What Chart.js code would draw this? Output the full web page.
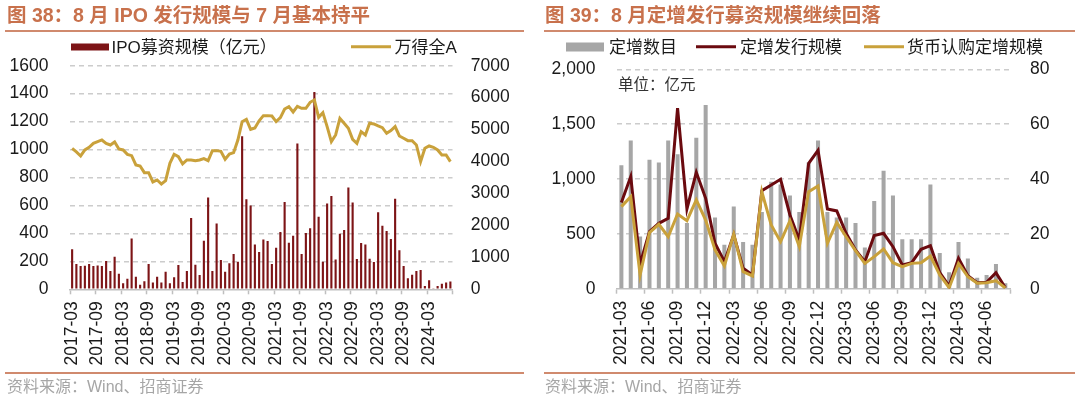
<!DOCTYPE html>
<html><head><meta charset="utf-8">
<script src="https://cdn.jsdelivr.net/npm/chart.js@4.4.1/dist/chart.umd.min.js"></script>
<style>
html,body{margin:0;padding:0;background:#fff;}
body{width:1080px;height:398px;position:relative;overflow:hidden;font-family:"Liberation Sans","Noto Sans CJK SC",sans-serif;}
canvas{position:absolute;top:0;}
.t{position:absolute;white-space:nowrap;line-height:1;transform:translateY(-50%);}
.title{font-size:19.5px;font-weight:bold;color:#c8714c;}
.hr{position:absolute;height:2px;background:#d08a6e;}
.leg{font-size:17px;color:#1a1a1a;}
.src{font-size:16px;color:#a6a6a6;}
.sw{position:absolute;transform:translateY(-50%);}
</style></head><body>
<canvas id="c1" width="540" height="398" style="left:0"></canvas>
<canvas id="c2" width="540" height="398" style="left:540px"></canvas>

<div class="t title" style="left:7px;top:15.6px">图 38：8 月 IPO 发行规模与 7 月基本持平</div>
<div class="hr" style="left:5px;top:29.5px;width:519px"></div>
<div class="sw" style="left:71px;top:46.7px;width:38px;height:7px;background:#7d1416"></div>
<div class="t leg" style="left:111.5px;top:46.7px">IPO募资规模（亿元）</div>
<div class="sw" style="left:351px;top:46.7px;width:40px;height:3.5px;background:#c9a13b"></div>
<div class="t leg" style="left:394.6px;top:46.7px">万得全A</div>
<div class="hr" style="left:5px;top:372px;width:519px"></div>
<div class="t src" style="left:7px;top:387px">资料来源：Wind、招商证券</div>

<div class="t title" style="left:545px;top:15.6px">图 39：8 月定增发行募资规模继续回落</div>
<div class="hr" style="left:543.5px;top:29.5px;width:531.5px"></div>
<div class="sw" style="left:566px;top:46.7px;width:38px;height:9px;background:#a6a6a6"></div>
<div class="t leg" style="left:609px;top:46.7px">定增数目</div>
<div class="sw" style="left:696px;top:46.7px;width:40px;height:3.5px;background:#6b0a0f"></div>
<div class="t leg" style="left:740px;top:46.7px">定增发行规模</div>
<div class="sw" style="left:863.6px;top:46.7px;width:40px;height:3.5px;background:#c9a13b"></div>
<div class="t leg" style="left:907px;top:46.7px">货币认购定增规模</div>
<div class="t" style="left:618px;top:84.8px;font-size:15.5px;color:#333">单位：亿元</div>
<div class="hr" style="left:543.5px;top:372px;width:531.5px"></div>
<div class="t src" style="left:545px;top:387px">资料来源：Wind、招商证券</div>

<script>
// ---------- Chart 38 data ----------
const ipoMonths = [
"2017-03","2017-04","2017-05","2017-06","2017-07","2017-08","2017-09","2017-10","2017-11","2017-12",
"2018-01","2018-02","2018-03","2018-04","2018-05","2018-06","2018-07","2018-08","2018-09","2018-10","2018-11","2018-12",
"2019-01","2019-02","2019-03","2019-04","2019-05","2019-06","2019-07","2019-08","2019-09","2019-10","2019-11","2019-12",
"2020-01","2020-02","2020-03","2020-04","2020-05","2020-06","2020-07","2020-08","2020-09","2020-10","2020-11","2020-12",
"2021-01","2021-02","2021-03","2021-04","2021-05","2021-06","2021-07","2021-08","2021-09","2021-10","2021-11","2021-12",
"2022-01","2022-02","2022-03","2022-04","2022-05","2022-06","2022-07","2022-08","2022-09","2022-10","2022-11","2022-12",
"2023-01","2023-02","2023-03","2023-04","2023-05","2023-06","2023-07","2023-08","2023-09","2023-10","2023-11","2023-12",
"2024-01","2024-02","2024-03","2024-04","2024-05","2024-06","2024-07","2024-08"];
const ipoAmount = [
286,181,167,169,181,167,171,167,202,131,233,112,43,76,364,90,33,57,181,48,90,48,126,43,86,174,52,131,510,176,
102,348,657,131,471,210,126,186,252,198,1095,645,600,321,267,357,345,181,298,410,624,333,383,1043,252,402,436,1412,519,198,
614,667,214,398,424,729,621,217,331,321,219,195,552,455,417,360,648,279,167,79,105,131,138,24,64,7,24,40,48,55];
const windA = [
4414,4299,4174,4362,4445,4570,4623,4675,4570,4518,4612,4393,4362,4226,4184,3892,3861,3652,3652,3360,3423,3297,3402,3944,4226,4153,3924,4049,4049,4028,
4049,4091,4028,4341,4341,4320,4070,4237,4278,4675,5249,5322,5009,5050,5275,5437,5437,5426,5249,5374,5645,5718,5551,5729,5666,5666,5854,5927,5384,5531,
5092,4623,4831,5353,5197,5040,4696,4570,4936,4831,5197,5176,5113,5061,4884,4967,5092,4800,4727,4654,4654,4518,3997,4414,4487,4445,4362,4205,4205,3997];

// ---------- Chart 39 data ----------
const pvtMonths = [
"2021-03","2021-04","2021-05","2021-06","2021-07","2021-08","2021-09","2021-10","2021-11","2021-12",
"2022-01","2022-02","2022-03","2022-04","2022-05","2022-06","2022-07","2022-08","2022-09","2022-10","2022-11","2022-12",
"2023-01","2023-02","2023-03","2023-04","2023-05","2023-06","2023-07","2023-08","2023-09","2023-10","2023-11","2023-12",
"2024-01","2024-02","2024-03","2024-04","2024-05","2024-06","2024-07","2024-08"];
const pvtCount = [45,54,19,47,46,54,49,24,55,67,26,16,30,17,16,28,39,38,34,28,46,54,28,26,26,24,15,32,43,34,18,18,18,38,13,6,17,11,4,5,9,2];
const pvtAmount = [785,1022,225,520,596,642,1645,727,1061,824,414,246,492,186,125,893,945,997,672,444,1143,1262,727,709,505,353,246,484,505,383,216,237,359,392,146,24,277,119,55,58,146,9];
const pvtCash = [748,839,125,511,587,474,681,620,809,626,353,207,497,155,116,884,581,428,620,383,885,937,414,605,474,347,231,292,362,237,201,231,237,298,125,9,231,109,49,55,73,6];

// axis ranges
const left38 = {min:0, max:1600, step:200};
const right38 = {min:0, max:7000, step:1000};
const left39 = {min:0, max:2000, step:500};
const right39 = {min:0, max:80, step:20};

const FONT = "'Liberation Sans','Noto Sans CJK SC',sans-serif";
const TXT = '#1a1a1a';
const GRID = '#cccccc';
const AXIS = '#bfbfbf';

function xScale(every, bottomPx){
  return {
    type:'category', offset:true,
    grid:{offset:true, drawOnChartArea:false, drawTicks:true, tickLength:5, tickWidth:1.5,
      tickColor: ctx => (ctx.type==='scale' || ctx.index % every === 0) ? AXIS : 'rgba(0,0,0,0)'},
    border:{color:AXIS, width:1.5},
    ticks:{autoSkip:false, minRotation:90, maxRotation:90, padding:7, color:TXT,
      font:{family:FONT, size:17.5},
      callback:function(v,i){ return i % every === 0 ? this.getLabelForValue(v) : ''; }},
    afterFit: s => { s.height = 398 - bottomPx; }
  };
}
function yScale(pos, r, pad, width, showGrid, fmt){
  const ticks = {stepSize:r.step, padding:pad, color:TXT, font:{family:FONT, size:17.5}};
  if (fmt) ticks.callback = fmt;
  return {
    position:pos, min:r.min, max:r.max,
    ticks:ticks,
    grid: showGrid ? {display:true, drawOnChartArea:true, drawTicks:false, lineWidth:1.5,
      color: ctx => (ctx.tick && ctx.tick.value === 0) ? 'rgba(0,0,0,0)' : GRID}
      : {drawOnChartArea:false, drawTicks:false},
    border:{display:false, dash:[5,4]},
    afterFit: s => { s.width = width; }
  };
}
const plain = v => String(v);

new Chart(document.getElementById('c1'), {
  data:{labels:ipoMonths, datasets:[
    {type:'line', label:'万得全A', data:windA, yAxisID:'y1', borderColor:'#c9a13b', borderWidth:3, pointRadius:0, tension:0, order:0},
    {type:'bar', label:'IPO募资规模（亿元）', data:ipoAmount, yAxisID:'y', backgroundColor:'#7d1416', barPercentage:0.5, categoryPercentage:1, order:1}
  ]},
  options:{
    responsive:false, animation:false, devicePixelRatio:1,
    layout:{padding:{top:65.7, left:0, right:0, bottom:0}},
    plugins:{legend:{display:false}, tooltip:{enabled:false}},
    scales:{
      x:xScale(6, 289.3),
      y:yScale('left', left38, 21.5, 70, true, plain),
      y1:yScale('right', right38, 18.2, 87.5, false, plain)
    }
  }
});

new Chart(document.getElementById('c2'), {
  data:{labels:pvtMonths, datasets:[
    {type:'line', label:'货币认购定增规模', data:pvtCash, yAxisID:'y', borderColor:'#c9a13b', borderWidth:3, pointRadius:0, tension:0, order:0},
    {type:'line', label:'定增发行规模', data:pvtAmount, yAxisID:'y', borderColor:'#6b0a0f', borderWidth:3, pointRadius:0, tension:0, order:1},
    {type:'bar', label:'定增数目', data:pvtCount, yAxisID:'y1', backgroundColor:'#a6a6a6', barPercentage:0.43, categoryPercentage:1, order:2}
  ]},
  options:{
    responsive:false, animation:false, devicePixelRatio:1,
    layout:{padding:{top:69.3, left:0, right:0, bottom:0}},
    plugins:{legend:{display:false}, tooltip:{enabled:false}},
    scales:{
      x:xScale(3, 288.7),
      y:yScale('left', left39, 21.3, 76.7, true, null),
      y1:yScale('right', right39, 20, 70, false, null)
    }
  }
});
</script>
</body></html>
